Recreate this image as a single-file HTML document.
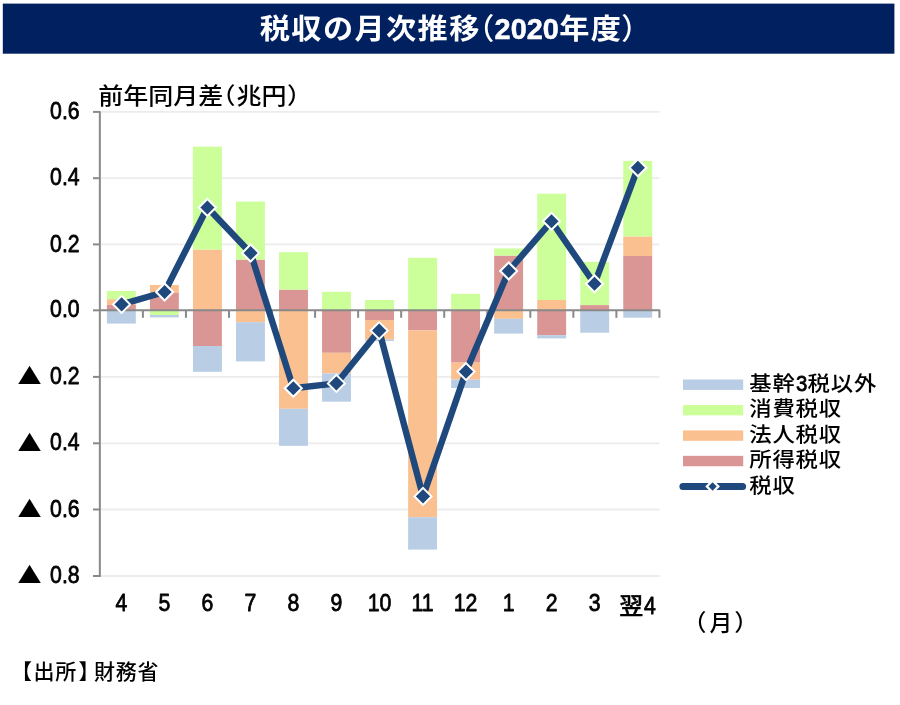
<!DOCTYPE html>
<html lang="ja"><head><meta charset="utf-8"><title>税収の月次推移（2020年度）</title>
<style>
html,body{margin:0;padding:0;background:#fff;}
body{width:900px;height:705px;overflow:hidden;}
svg{display:block;}
text{font-family:"Liberation Sans","Noto Sans CJK JP",sans-serif;fill:#000;}
.t{font-weight:700;fill:#fff;font-size:29.3px;}
.jp{font-family:"Liberation Sans","Noto Sans CJK JP",sans-serif;font-weight:500;}
.t.jp{font-weight:700;}
.n{stroke:#000;stroke-width:0.8px;stroke-linejoin:round;}
</style></head><body>
<svg width="900" height="705" viewBox="0 0 900 705">
<rect x="0" y="0" width="900" height="705" fill="#fff"/>
<rect x="2.8" y="3.6" width="891.6" height="50.1" fill="#002060"/>
<text class="t jp" transform="translate(259.8,39.2) scale(1.03,0.985)" letter-spacing="1.35">税収の月次推移</text>
<text class="t jp" style="font-weight:500" transform="translate(465,39.2) scale(1,1)">（</text>
<text class="t" transform="translate(494.6,39.4) scale(0.985,1.03)" style="font-size:29.3px" stroke="#fff" stroke-width="0.5">2020</text>
<text class="t jp" transform="translate(559.3,39.2) scale(1.03,0.985)" letter-spacing="1.35">年度</text>
<text class="t jp" style="font-weight:500" transform="translate(621.2,39.2) scale(1,1)">）</text>
<line x1="99.85" y1="111.9" x2="659.4" y2="111.9" stroke="#ECECEC" stroke-width="1.8"/>
<line x1="99.85" y1="178.2" x2="659.4" y2="178.2" stroke="#ECECEC" stroke-width="1.8"/>
<line x1="99.85" y1="244.4" x2="659.4" y2="244.4" stroke="#ECECEC" stroke-width="1.8"/>
<line x1="99.85" y1="376.9" x2="659.4" y2="376.9" stroke="#ECECEC" stroke-width="1.8"/>
<line x1="99.85" y1="443.3" x2="659.4" y2="443.3" stroke="#ECECEC" stroke-width="1.8"/>
<line x1="99.85" y1="509.5" x2="659.4" y2="509.5" stroke="#ECECEC" stroke-width="1.8"/>
<line x1="99.85" y1="576.0" x2="659.4" y2="576.0" stroke="#ECECEC" stroke-width="1.8"/>
<rect x="106.91" y="305.00" width="28.90" height="5.33" fill="#D99694"/>
<rect x="106.91" y="299.20" width="28.90" height="5.80" fill="#FAC090"/>
<rect x="106.91" y="291.00" width="28.90" height="8.20" fill="#CCFF99"/>
<rect x="106.91" y="310.33" width="28.90" height="13.27" fill="#B9CDE5"/>
<rect x="149.94" y="293.00" width="28.90" height="17.33" fill="#D99694"/>
<rect x="149.94" y="285.00" width="28.90" height="8.00" fill="#FAC090"/>
<rect x="149.94" y="310.33" width="28.90" height="4.67" fill="#CCFF99"/>
<rect x="149.94" y="315.00" width="28.90" height="2.40" fill="#B9CDE5"/>
<rect x="192.98" y="249.60" width="28.90" height="60.73" fill="#FAC090"/>
<rect x="192.98" y="146.60" width="28.90" height="103.00" fill="#CCFF99"/>
<rect x="192.98" y="310.33" width="28.90" height="35.67" fill="#D99694"/>
<rect x="192.98" y="346.00" width="28.90" height="25.80" fill="#B9CDE5"/>
<rect x="236.01" y="259.60" width="28.90" height="50.73" fill="#D99694"/>
<rect x="236.01" y="201.60" width="28.90" height="58.00" fill="#CCFF99"/>
<rect x="236.01" y="310.33" width="28.90" height="11.87" fill="#FAC090"/>
<rect x="236.01" y="322.20" width="28.90" height="39.20" fill="#B9CDE5"/>
<rect x="279.04" y="289.60" width="28.90" height="20.73" fill="#D99694"/>
<rect x="279.04" y="252.20" width="28.90" height="37.40" fill="#CCFF99"/>
<rect x="279.04" y="310.33" width="28.90" height="98.47" fill="#FAC090"/>
<rect x="279.04" y="408.80" width="28.90" height="37.00" fill="#B9CDE5"/>
<rect x="322.06" y="291.80" width="28.90" height="18.53" fill="#CCFF99"/>
<rect x="322.06" y="310.33" width="28.90" height="42.47" fill="#D99694"/>
<rect x="322.06" y="352.80" width="28.90" height="20.60" fill="#FAC090"/>
<rect x="322.06" y="373.40" width="28.90" height="28.30" fill="#B9CDE5"/>
<rect x="365.09" y="300.00" width="28.90" height="10.33" fill="#CCFF99"/>
<rect x="365.09" y="310.33" width="28.90" height="9.67" fill="#D99694"/>
<rect x="365.09" y="320.00" width="28.90" height="19.60" fill="#FAC090"/>
<rect x="365.09" y="339.60" width="28.90" height="1.40" fill="#B9CDE5"/>
<rect x="408.13" y="257.80" width="28.90" height="52.53" fill="#CCFF99"/>
<rect x="408.13" y="310.33" width="28.90" height="20.07" fill="#D99694"/>
<rect x="408.13" y="330.40" width="28.90" height="186.80" fill="#FAC090"/>
<rect x="408.13" y="517.20" width="28.90" height="32.40" fill="#B9CDE5"/>
<rect x="451.16" y="293.80" width="28.90" height="16.53" fill="#CCFF99"/>
<rect x="451.16" y="310.33" width="28.90" height="52.27" fill="#D99694"/>
<rect x="451.16" y="362.60" width="28.90" height="17.00" fill="#FAC090"/>
<rect x="451.16" y="379.60" width="28.90" height="8.40" fill="#B9CDE5"/>
<rect x="494.19" y="255.60" width="28.90" height="54.73" fill="#D99694"/>
<rect x="494.19" y="248.50" width="28.90" height="7.10" fill="#CCFF99"/>
<rect x="494.19" y="310.33" width="28.90" height="8.47" fill="#FAC090"/>
<rect x="494.19" y="318.80" width="28.90" height="14.80" fill="#B9CDE5"/>
<rect x="537.21" y="300.00" width="28.90" height="10.33" fill="#FAC090"/>
<rect x="537.21" y="193.70" width="28.90" height="106.30" fill="#CCFF99"/>
<rect x="537.21" y="310.33" width="28.90" height="24.87" fill="#D99694"/>
<rect x="537.21" y="335.20" width="28.90" height="3.20" fill="#B9CDE5"/>
<rect x="580.25" y="305.10" width="28.90" height="5.23" fill="#D99694"/>
<rect x="580.25" y="261.90" width="28.90" height="43.20" fill="#CCFF99"/>
<rect x="580.25" y="310.33" width="28.90" height="22.37" fill="#B9CDE5"/>
<rect x="623.27" y="256.00" width="28.90" height="54.33" fill="#D99694"/>
<rect x="623.27" y="236.40" width="28.90" height="19.60" fill="#FAC090"/>
<rect x="623.27" y="160.90" width="28.90" height="75.50" fill="#CCFF99"/>
<rect x="623.27" y="310.33" width="28.90" height="7.37" fill="#B9CDE5"/>
<line x1="99.85" y1="111.2" x2="99.85" y2="577" stroke="#898989" stroke-width="2"/>
<line x1="93" y1="111.9" x2="99.85" y2="111.9" stroke="#898989" stroke-width="2"/>
<line x1="93" y1="178.2" x2="99.85" y2="178.2" stroke="#898989" stroke-width="2"/>
<line x1="93" y1="244.4" x2="99.85" y2="244.4" stroke="#898989" stroke-width="2"/>
<line x1="93" y1="310.33" x2="99.85" y2="310.33" stroke="#898989" stroke-width="2"/>
<line x1="93" y1="376.9" x2="99.85" y2="376.9" stroke="#898989" stroke-width="2"/>
<line x1="93" y1="443.3" x2="99.85" y2="443.3" stroke="#898989" stroke-width="2"/>
<line x1="93" y1="509.5" x2="99.85" y2="509.5" stroke="#898989" stroke-width="2"/>
<line x1="93" y1="576.0" x2="99.85" y2="576.0" stroke="#898989" stroke-width="2"/>
<polyline points="99.85,310.33 659.45,310.33 659.45,317.8" fill="none" stroke="#898989" stroke-width="2" stroke-linejoin="round"/>
<line x1="142.90" y1="310.33" x2="142.90" y2="317.8" stroke="#898989" stroke-width="2"/>
<line x1="185.94" y1="310.33" x2="185.94" y2="317.8" stroke="#898989" stroke-width="2"/>
<line x1="228.99" y1="310.33" x2="228.99" y2="317.8" stroke="#898989" stroke-width="2"/>
<line x1="272.03" y1="310.33" x2="272.03" y2="317.8" stroke="#898989" stroke-width="2"/>
<line x1="315.08" y1="310.33" x2="315.08" y2="317.8" stroke="#898989" stroke-width="2"/>
<line x1="358.13" y1="310.33" x2="358.13" y2="317.8" stroke="#898989" stroke-width="2"/>
<line x1="401.17" y1="310.33" x2="401.17" y2="317.8" stroke="#898989" stroke-width="2"/>
<line x1="444.22" y1="310.33" x2="444.22" y2="317.8" stroke="#898989" stroke-width="2"/>
<line x1="487.27" y1="310.33" x2="487.27" y2="317.8" stroke="#898989" stroke-width="2"/>
<line x1="530.31" y1="310.33" x2="530.31" y2="317.8" stroke="#898989" stroke-width="2"/>
<line x1="573.36" y1="310.33" x2="573.36" y2="317.8" stroke="#898989" stroke-width="2"/>
<line x1="616.40" y1="310.33" x2="616.40" y2="317.8" stroke="#898989" stroke-width="2"/>
<polyline points="121.6,304.4 164.6,292 207.4,207.5 250.6,253 293.3,388.2 336.4,383.4 379.2,330.6 423,496.4 466,371.6 508.7,271 551.5,221.3 594.5,283.8 637.9,167.8" fill="none" stroke="#1F497D" stroke-width="6.4" stroke-linejoin="round" stroke-linecap="round"/>
<polygon points="121.6,295.9 130.1,304.4 121.6,312.9 113.1,304.4" fill="#1F497D" stroke="#fff" stroke-width="2.05"/>
<polygon points="164.6,283.5 173.1,292 164.6,300.5 156.1,292" fill="#1F497D" stroke="#fff" stroke-width="2.05"/>
<polygon points="207.4,199.0 215.9,207.5 207.4,216.0 198.9,207.5" fill="#1F497D" stroke="#fff" stroke-width="2.05"/>
<polygon points="250.6,244.5 259.1,253 250.6,261.5 242.1,253" fill="#1F497D" stroke="#fff" stroke-width="2.05"/>
<polygon points="293.3,379.7 301.8,388.2 293.3,396.7 284.8,388.2" fill="#1F497D" stroke="#fff" stroke-width="2.05"/>
<polygon points="336.4,374.9 344.9,383.4 336.4,391.9 327.9,383.4" fill="#1F497D" stroke="#fff" stroke-width="2.05"/>
<polygon points="379.2,322.1 387.7,330.6 379.2,339.1 370.7,330.6" fill="#1F497D" stroke="#fff" stroke-width="2.05"/>
<polygon points="423,487.9 431.5,496.4 423,504.9 414.5,496.4" fill="#1F497D" stroke="#fff" stroke-width="2.05"/>
<polygon points="466,363.1 474.5,371.6 466,380.1 457.5,371.6" fill="#1F497D" stroke="#fff" stroke-width="2.05"/>
<polygon points="508.7,262.5 517.2,271 508.7,279.5 500.2,271" fill="#1F497D" stroke="#fff" stroke-width="2.05"/>
<polygon points="551.5,212.8 560.0,221.3 551.5,229.8 543.0,221.3" fill="#1F497D" stroke="#fff" stroke-width="2.05"/>
<polygon points="594.5,275.3 603.0,283.8 594.5,292.3 586.0,283.8" fill="#1F497D" stroke="#fff" stroke-width="2.05"/>
<polygon points="637.9,159.3 646.4,167.8 637.9,176.3 629.4,167.8" fill="#1F497D" stroke="#fff" stroke-width="2.05"/>
<text transform="translate(79.6,119.0) scale(0.885,1)" text-anchor="end" font-size="24" class="n">0.6</text>
<text transform="translate(79.6,185.3) scale(0.885,1)" text-anchor="end" font-size="24" class="n">0.4</text>
<text transform="translate(79.6,251.5) scale(0.885,1)" text-anchor="end" font-size="24" class="n">0.2</text>
<text transform="translate(79.6,317.4) scale(0.885,1)" text-anchor="end" font-size="24" class="n">0.0</text>
<text transform="translate(79.6,384.0) scale(0.885,1)" text-anchor="end" font-size="24" class="n">0.2</text>
<text class="jp" transform="translate(10.4,384.1) scale(1.75,1.42)" font-size="22">▲</text>
<text transform="translate(79.6,450.4) scale(0.885,1)" text-anchor="end" font-size="24" class="n">0.4</text>
<text class="jp" transform="translate(10.4,450.5) scale(1.75,1.42)" font-size="22">▲</text>
<text transform="translate(79.6,516.6) scale(0.885,1)" text-anchor="end" font-size="24" class="n">0.6</text>
<text class="jp" transform="translate(10.4,516.7) scale(1.75,1.42)" font-size="22">▲</text>
<text transform="translate(79.6,583.1) scale(0.885,1)" text-anchor="end" font-size="24" class="n">0.8</text>
<text class="jp" transform="translate(10.4,583.2) scale(1.75,1.42)" font-size="22">▲</text>
<text transform="translate(121.4,611.3) scale(0.885,1)" text-anchor="middle" font-size="24" class="n">4</text>
<text transform="translate(164.4,611.3) scale(0.885,1)" text-anchor="middle" font-size="24" class="n">5</text>
<text transform="translate(207.4,611.3) scale(0.885,1)" text-anchor="middle" font-size="24" class="n">6</text>
<text transform="translate(250.5,611.3) scale(0.885,1)" text-anchor="middle" font-size="24" class="n">7</text>
<text transform="translate(293.5,611.3) scale(0.885,1)" text-anchor="middle" font-size="24" class="n">8</text>
<text transform="translate(336.5,611.3) scale(0.885,1)" text-anchor="middle" font-size="24" class="n">9</text>
<text transform="translate(379.5,611.3) scale(0.885,1)" text-anchor="middle" font-size="24" class="n">10</text>
<text transform="translate(422.6,611.3) scale(0.885,1)" text-anchor="middle" font-size="24" class="n">11</text>
<text transform="translate(465.6,611.3) scale(0.885,1)" text-anchor="middle" font-size="24" class="n">12</text>
<text transform="translate(508.6,611.3) scale(0.885,1)" text-anchor="middle" font-size="24" class="n">1</text>
<text transform="translate(551.7,611.3) scale(0.885,1)" text-anchor="middle" font-size="24" class="n">2</text>
<text transform="translate(594.7,611.3) scale(0.885,1)" text-anchor="middle" font-size="24" class="n">3</text>
<text class="jp" transform="translate(619.2,614.2) scale(1,0.96)" font-size="24" stroke="#000" stroke-width="0.4">翌</text>
<text transform="translate(644,614.2) scale(0.885,1)" font-size="24" class="n">4</text>
<text class="jp" transform="translate(682.5,631) scale(1,0.96)" font-size="24">（</text>
<text class="jp" transform="translate(709.5,631) scale(0.95,0.96)" font-size="24">月</text>
<text class="jp" transform="translate(734.3,631) scale(1,0.96)" font-size="24">）</text>
<text class="jp" transform="translate(98.3,103.9) scale(1.025,0.935)" font-size="24.4">前年同月差</text>
<text class="jp" transform="translate(210.5,103.9) scale(1.025,0.935)" font-size="24.4">（</text>
<text class="jp" transform="translate(236.5,103.9) scale(1.025,0.935)" font-size="24.4">兆円</text>
<text class="jp" transform="translate(287,103.9) scale(1.025,0.935)" font-size="24.4">）</text>
<text class="jp" x="11" y="679.2" font-size="21">【</text>
<text class="jp" x="33.6" y="679.2" font-size="21" letter-spacing="0.6">出所</text>
<text class="jp" x="78.5" y="679.2" font-size="21">】</text>
<text class="jp" x="94" y="679.2" font-size="21" letter-spacing="0.7">財務省</text>
<rect x="683" y="379.50" width="60.2" height="10.4" fill="#B9CDE5"/>
<text class="jp" transform="translate(749.3,390.6) scale(1,0.93)" font-size="22.4" letter-spacing="0.75">基幹</text>
<text transform="translate(796,390.6) scale(0.885,1)" font-size="23" class="n">3</text>
<text class="jp" transform="translate(807.6,390.6) scale(1,0.93)" font-size="22.4" letter-spacing="0.75">税以外</text>
<rect x="683" y="404.95" width="60.2" height="10.4" fill="#CCFF99"/>
<text class="jp" transform="translate(749.3,416.1) scale(1,0.93)" font-size="22.4" letter-spacing="0.75">消費税収</text>
<rect x="683" y="430.40" width="60.2" height="10.4" fill="#FAC090"/>
<text class="jp" transform="translate(749.3,441.5) scale(1,0.93)" font-size="22.4" letter-spacing="0.75">法人税収</text>
<rect x="683" y="455.85" width="60.2" height="10.4" fill="#D99694"/>
<text class="jp" transform="translate(749.3,467.0) scale(1,0.93)" font-size="22.4" letter-spacing="0.75">所得税収</text>
<line x1="682.9" y1="486.4" x2="742.6" y2="486.4" stroke="#1F497D" stroke-width="7" stroke-linecap="round"/>
<polygon points="712.6,480.59999999999997 718.4,486.4 712.6,492.2 706.8000000000001,486.4" fill="#1F497D" stroke="#fff" stroke-width="2.2"/>
<text class="jp" transform="translate(749.3,492.7) scale(1,0.93)" font-size="22.4" letter-spacing="0.75">税収</text>
</svg>
</body></html>
